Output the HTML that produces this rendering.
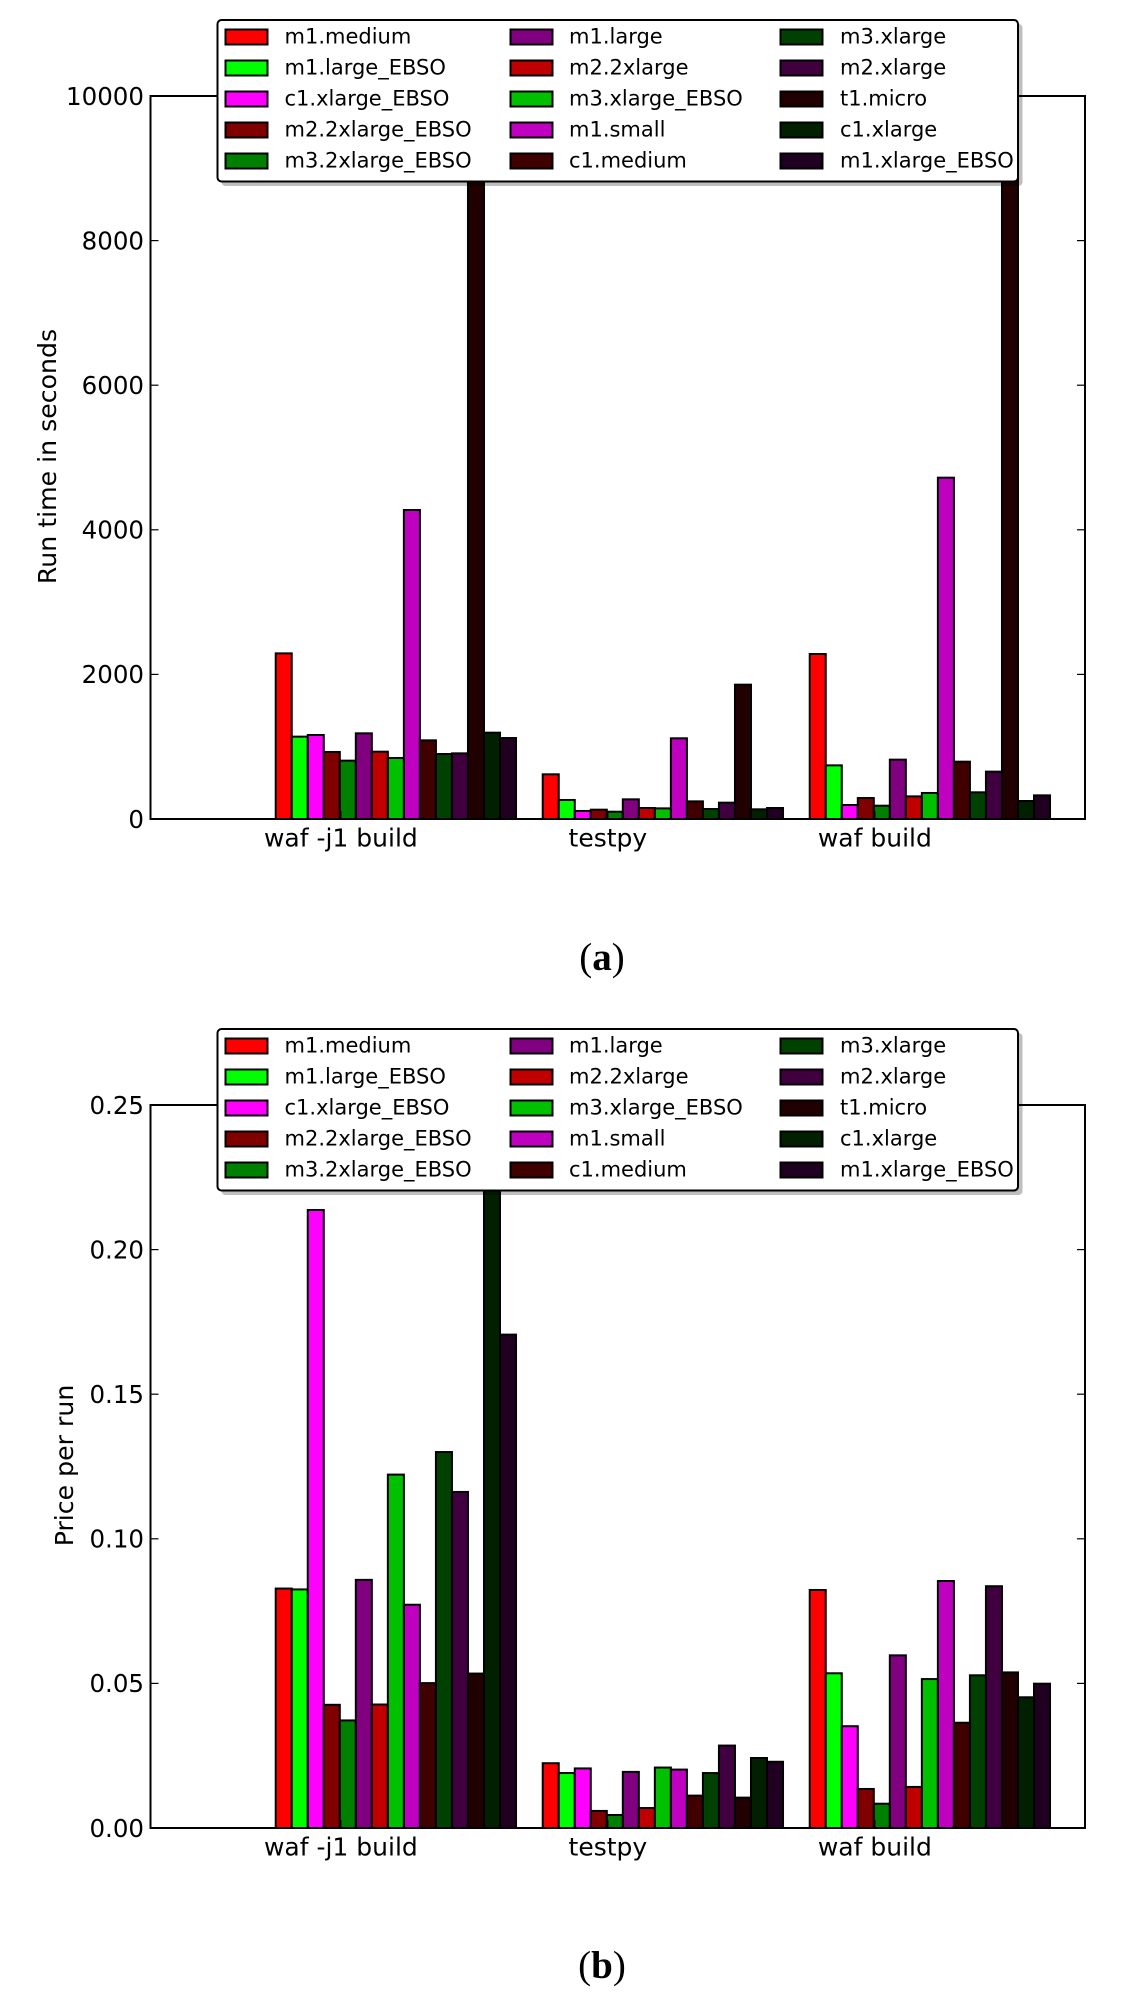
<!DOCTYPE html>
<html lang="en">
<head>
<meta charset="utf-8">
<title>Run time and price per run by instance type</title>
<style>
html,body{margin:0;padding:0;background:#fff;}
svg{display:block;}
text{fill:#000;}
.sans{font-family:"DejaVu Sans","Liberation Sans",sans-serif;}
.cap{font-family:"Liberation Serif",serif;}
</style>
</head>
<body>
<svg id="figure" xmlns="http://www.w3.org/2000/svg" width="1121" height="2009" viewBox="0 0 1121 2009"></svg>
<script>
// ---- data ----
const categories = ["waf -j1 build", "testpy", "waf build"];
const instanceTypes = ["m1.medium","m1.large_EBSO","c1.xlarge_EBSO","m2.2xlarge_EBSO","m3.2xlarge_EBSO","m1.large","m2.2xlarge","m3.xlarge_EBSO","m1.small","c1.medium","m3.xlarge","m2.xlarge","t1.micro","c1.xlarge","m1.xlarge_EBSO"];
const instanceColors = ["#ff0000","#00ff00","#ff00ff","#800000","#008000","#800080","#c00000","#00c000","#c000c0","#400000","#004000","#400040","#200000","#002000","#200020"];

const runTimeWafJ1 = [2291,1139,1162,927,807,1185,931,844,4274,1088,899,908,15000,1194,1120];
const runTimeTestpy = [618,263,111,129,101,272,152,147,1116,244,138,226,1858,134,152];
const runTimeWaf = [2282,742,194,290,184,821,313,360,4721,793,369,655,16000,249,327];
const runTimeTicks = [0,2000,4000,6000,8000,10000];
const runTimeTickLabels = ["0","2000","4000","6000","8000","10000"];

const priceWafJ1 = [0.0828,0.0825,0.2137,0.0426,0.0372,0.0858,0.0427,0.1222,0.0772,0.0501,0.1300,0.1162,0.0534,0.30,0.1706];
const priceTestpy = [0.0224,0.0190,0.0206,0.0059,0.0045,0.0194,0.0069,0.0209,0.0202,0.0112,0.0190,0.0285,0.0105,0.0242,0.0229];
const priceWaf = [0.0823,0.0535,0.0352,0.0135,0.0084,0.0597,0.0142,0.0515,0.0854,0.0364,0.0528,0.0836,0.0538,0.0452,0.0499];
const priceTicks = [0,0.05,0.10,0.15,0.20,0.25];
const priceTickLabels = ["0.00","0.05","0.10","0.15","0.20","0.25"];

// ---- layout ----
const NS = "http://www.w3.org/2000/svg";
const root = document.getElementById("figure");
const axLeft = 150.5, axRight = 1085, axHeight = 723;
const xMax = 3.5, barStart = 0.469, barStep = 0.06, tickStart = 0.713;
const xScale = function (u) { return axLeft + (axRight - axLeft) * u / xMax; };

function make(tag, attrs, parent, text) {
  const el = document.createElementNS(NS, tag);
  for (const k in attrs) el.setAttribute(k, attrs[k]);
  if (text !== undefined) el.textContent = text;
  parent.appendChild(el);
  return el;
}

function drawPanel(id, axTop, yMax, groups, ticks, tickLabels, yTitle, yTitleX, captionLetter, captionY) {
  const axBottom = axTop + axHeight;
  const yScale = function (v) { return axBottom - v / yMax * axHeight; };

  const panel = make("g", {}, root);
  
  

  const defs = make("defs", {}, panel);
  const clip = make("clipPath", { id: id + "-clip" }, defs);
  make("rect", { x: axLeft, y: axTop, width: axRight - axLeft, height: axHeight }, clip);

  // bars
  const barsLayer = make("g", { "clip-path": "url(#" + id + "-clip)" }, panel);
  
  
  groups.forEach(function (values, g) {
    values.forEach(function (v, s) {
      const x0 = xScale(g + barStart + s * barStep);
      const x1 = xScale(g + barStart + (s + 1) * barStep);
      const top = yScale(v);
      const bar = make("rect", {
        x: x0, y: top, width: x1 - x0, height: axBottom - top,
        fill: instanceColors[s], stroke: "#000", "stroke-width": 2
      }, barsLayer);
      
      
    });
  });

  // y ticks
  ticks.forEach(function (t, i) {
    const y = yScale(t);
    const tl = make("line", { x1: axLeft, x2: axLeft + 8, y1: y, y2: y, stroke: "#000", "stroke-width": 1.2 }, panel);
    
    
    const tr = make("line", { x1: axRight - 8, x2: axRight, y1: y, y2: y, stroke: "#000", "stroke-width": 1.2 }, panel);
    
    
    const lab = make("text", { x: 144, y: y + 8.8, "text-anchor": "end", "font-size": 24.5, class: "sans" }, panel, tickLabels[i]);
    
    
  });

  // x ticks and labels
  categories.forEach(function (c, g) {
    const x = xScale(g + tickStart);
    const tk = make("line", { x1: x, x2: x, y1: axBottom - 8, y2: axBottom, stroke: "#000", "stroke-width": 1.2 }, panel);
    
    
    const lab = make("text", { x: x, y: axBottom + 27.5, "text-anchor": "middle", "font-size": 25, class: "sans" }, panel, c);
    
    
  });

  // frame
  const frame = make("rect", { x: axLeft, y: axTop, width: axRight - axLeft, height: axHeight, fill: "none", stroke: "#000", "stroke-width": 2 }, panel);
  
  

  // y title
  const cy = (axTop + axBottom) / 2 - 1;
  const title = make("text", { x: yTitleX, y: cy, "text-anchor": "middle", "font-size": 25.2, class: "sans", transform: "rotate(-90 " + yTitleX + " " + cy + ")" }, panel, yTitle);
  
  

  // legend
  const legTop = axTop - 76;
  const legend = make("g", {}, panel);
  
  
  const shadow = make("rect", { x: 221.5, y: legTop + 4, width: 801, height: 162, rx: 4, fill: "#000", "fill-opacity": 0.25 }, legend);
  
  
  const box = make("rect", { x: 217.5, y: legTop, width: 800.5, height: 161.5, rx: 4, fill: "#fff", stroke: "#000", "stroke-width": 2 }, legend);
  
  
  const colSwatch = [225.5, 510.5, 780.5];
  const colText = [284.5, 569, 840];
  instanceTypes.forEach(function (name, i) {
    const col = Math.floor(i / 5), row = i % 5;
    const cyRow = legTop + 17 + row * 31;
    const entry = make("g", {}, legend);
    
    
    const sw = make("rect", { x: colSwatch[col], y: cyRow - 7.5, width: 42, height: 15, fill: instanceColors[i], stroke: "#000", "stroke-width": 2 }, entry);
    
    
    const tx = make("text", { x: colText[col], y: cyRow + 6.5, "font-size": 21, class: "sans" }, entry, name);
    
    
  });

  // caption: regular parentheses around a bold letter
  const cap = make("text", { x: 602, y: captionY, "text-anchor": "middle", "font-size": 39, class: "cap" }, panel);
  
  
  make("tspan", {}, cap, "(");
  make("tspan", { "font-weight": "bold" }, cap, captionLetter);
  make("tspan", {}, cap, ")");
}

drawPanel("run-time", 96, 10000, [runTimeWafJ1, runTimeTestpy, runTimeWaf], runTimeTicks, runTimeTickLabels, "Run time in seconds", 56, "a", 970);
drawPanel("price", 1105, 0.25, [priceWafJ1, priceTestpy, priceWaf], priceTicks, priceTickLabels, "Price per run", 73, "b", 1978);
</script>
</body>
</html>
